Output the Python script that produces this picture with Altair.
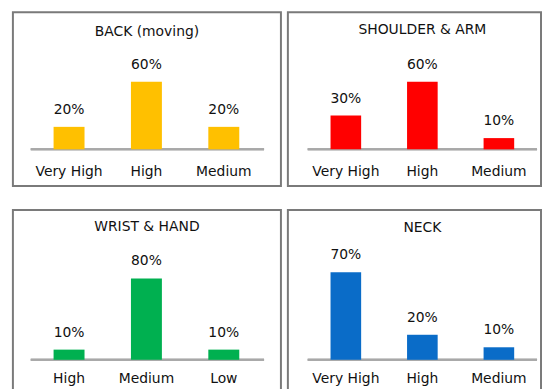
import altair as alt
import pandas as pd

# ---- data ----
titles = ["BACK (moving)", "SHOULDER & ARM", "WRIST & HAND", "NECK"]
cats_back = ["Very High", "High", "Medium"]
vals_back = [0.20, 0.60, 0.20]
cats_shoulder = ["Very High", "High", "Medium"]
vals_shoulder = [0.30, 0.60, 0.10]
cats_wrist = ["High", "Medium", "Low"]
vals_wrist = [0.10, 0.80, 0.10]
cats_neck = ["Very High", "High", "Medium"]
vals_neck = [0.70, 0.20, 0.10]
colors = ["#FFC000", "#FF0000", "#00B050", "#0A6CC8"]

FONT = "DejaVu Sans"


def panel(title, cats, vals, color, width, height, ydom, align, padO, axis_off,
          lab_pad, title_off, title_dx, base_x):
    df = pd.DataFrame({"cat": cats, "val": vals, "zero": [0.0] * len(cats)})
    x = alt.X("cat:N", sort=cats,
              scale=alt.Scale(paddingInner=0.6, paddingOuter=padO, align=align),
              axis=alt.Axis(title=None, domain=False, ticks=False,
                            labelAngle=0, labelFont=FONT, labelFontSize=14,
                            labelColor="#111111", labelBaseline="middle",
                            labelPadding=lab_pad, offset=axis_off, grid=False))
    yscale = alt.Scale(domain=ydom, nice=False, zero=False)
    y = alt.Y("val:Q", scale=yscale, axis=None)
    base = alt.Chart(df)
    bars = base.mark_bar(color=color).encode(x=x, y=y, y2="zero:Q")
    labels = base.mark_text(font=FONT, fontSize=14, color="#111111",
                            baseline="alphabetic", dy=-13).encode(
        x=x, y=y, text=alt.Text("val:Q", format=".0%"))
    rule = base.mark_rule(color="#a8a8a8", strokeWidth=2).encode(
        y=alt.Y("zero:Q", scale=yscale, axis=None),
        x=alt.value(base_x[0]), x2=alt.value(base_x[1]))
    return alt.layer(rule, bars, labels).properties(
        width=width, height=height,
        title=alt.TitleParams(title, font=FONT, fontSize=14, fontWeight="normal",
                              color="#111111", anchor="middle", baseline="middle",
                              offset=title_off, dx=title_dx))


p1 = panel(titles[0], cats_back, vals_back, colors[0], 270, 175,
           [-0.3266, 1.218], 0.494, 0.532, -37, 22, -34, 0, (18, 253))
p2 = panel(titles[1], cats_shoulder, vals_shoulder, colors[1], 255, 175,
           [-0.3266, 1.218], 0.614, 0.454, -37, 22, -32, 8, (20, 251))
p3 = panel(titles[2], cats_wrist, vals_wrist, colors[2], 270, 182,
           [-0.3024, 1.4732], 0.494, 0.532, -31, 19, -31, 0, (18, 253))
p4 = panel(titles[3], cats_neck, vals_neck, colors[3], 255, 182,
           [-0.246, 1.198], 0.614, 0.454, -31, 19, -32, 8, (20, 251))

chart = alt.vconcat(
    alt.hconcat(p1, p2, spacing=5),
    alt.hconcat(p3, p4, spacing=5),
    spacing=22,
).properties(
    padding={"left": 12, "top": 10, "right": 0, "bottom": 0},
    background="white",
).configure_view(stroke="#7a7a7a", strokeWidth=2)

chart.save("out.html", embed_options={"renderer": "svg", "actions": False})
